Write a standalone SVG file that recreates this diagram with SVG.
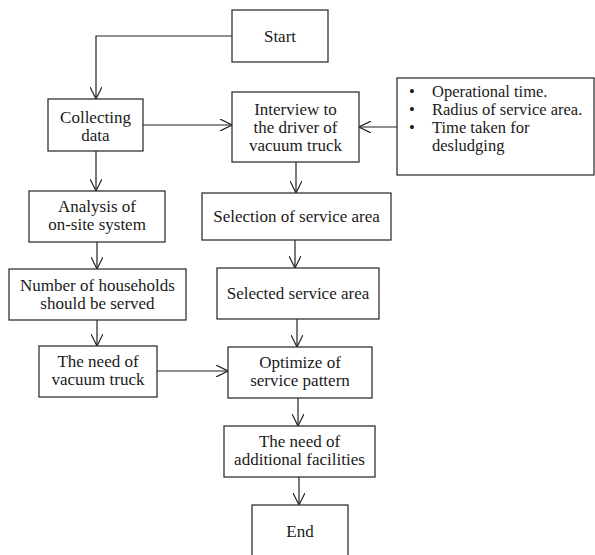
<svg xmlns="http://www.w3.org/2000/svg" width="595" height="555" viewBox="0 0 595 555">
<style>
.box{fill:#fff;stroke:#333;stroke-width:1.3}
.t{font-family:"Liberation Serif","Times New Roman",serif;font-size:17px;fill:#1a1a1a;text-anchor:middle}
.tl{font-family:"Liberation Serif","Times New Roman",serif;font-size:16.5px;fill:#1a1a1a}
.c{fill:none;stroke:#222;stroke-width:1.2}
</style>
<defs>
<marker id="arr" viewBox="0 0 12 12" refX="12" refY="6" markerWidth="12" markerHeight="12" markerUnits="userSpaceOnUse" orient="auto">
<path d="M0,0 L12,6 L0,12" fill="none" stroke="#222" stroke-width="1.2"/>
</marker>
</defs>
<rect width="595" height="555" fill="#fff"/>
<g id="connectors">
<path class="c" d="M232,36 H96 V99" marker-end="url(#arr)"/>
<path class="c" d="M143,125 H232" marker-end="url(#arr)"/>
<path class="c" d="M397,127 H359" marker-end="url(#arr)"/>
<path class="c" d="M96,151 V191" marker-end="url(#arr)"/>
<path class="c" d="M296,162 V193" marker-end="url(#arr)"/>
<path class="c" d="M97,242 V269" marker-end="url(#arr)"/>
<path class="c" d="M295,240 V268" marker-end="url(#arr)"/>
<path class="c" d="M97,320 V346" marker-end="url(#arr)"/>
<path class="c" d="M297,319 V347" marker-end="url(#arr)"/>
<path class="c" d="M157,371 H228" marker-end="url(#arr)"/>
<path class="c" d="M298,398 V426" marker-end="url(#arr)"/>
<path class="c" d="M299,477 V505" marker-end="url(#arr)"/>
</g>
<g id="start">
<rect class="box" x="232" y="10" width="96" height="52"/>
<text class="t" x="280" y="42">Start</text>
</g>
<g id="collecting">
<rect class="box" x="48" y="99" width="95" height="52"/>
<text class="t" x="95.5" y="123">Collecting</text>
<text class="t" x="95.5" y="141">data</text>
</g>
<g id="interview">
<rect class="box" x="232" y="92" width="127" height="70"/>
<text class="t" x="295.5" y="115">Interview to</text>
<text class="t" x="295.5" y="133">the driver of</text>
<text class="t" x="295.5" y="151">vacuum  truck</text>
</g>
<g id="factors">
<rect class="box" x="397" y="78" width="197" height="97"/>
<text class="tl" x="409" y="97">•</text>
<text class="tl" x="432" y="97">Operational time.</text>
<text class="tl" x="409" y="115">•</text>
<text class="tl" x="432" y="115">Radius of service area.</text>
<text class="tl" x="409" y="133">•</text>
<text class="tl" x="432" y="133">Time taken  for</text>
<text class="tl" x="432" y="151">desludging</text>
</g>
<g id="analysis">
<rect class="box" x="29" y="191" width="136" height="51"/>
<text class="t" x="97" y="212">Analysis of</text>
<text class="t" x="97" y="230">on-site system</text>
</g>
<g id="selection">
<rect class="box" x="202" y="193" width="189" height="47"/>
<text class="t" x="296.5" y="222">Selection of service area</text>
</g>
<g id="households">
<rect class="box" x="9" y="269" width="177" height="51"/>
<text class="t" x="97.5" y="291">Number of households</text>
<text class="t" x="97.5" y="309">should be served</text>
</g>
<g id="selected">
<rect class="box" x="217" y="268" width="162" height="51"/>
<text class="t" x="298" y="299">Selected service area</text>
</g>
<g id="need-truck">
<rect class="box" x="39" y="346" width="118" height="51"/>
<text class="t" x="98" y="367">The need of</text>
<text class="t" x="98" y="385">vacuum  truck</text>
</g>
<g id="optimize">
<rect class="box" x="228" y="347" width="144" height="51"/>
<text class="t" x="300" y="368">Optimize of</text>
<text class="t" x="300" y="386">service pattern</text>
</g>
<g id="facilities">
<rect class="box" x="224" y="426" width="151" height="51"/>
<text class="t" x="299.5" y="447">The need of</text>
<text class="t" x="299.5" y="465">additional facilities</text>
</g>
<g id="end">
<rect class="box" x="252" y="505" width="96" height="60"/>
<text class="t" x="300" y="537">End</text>
</g>
</svg>
